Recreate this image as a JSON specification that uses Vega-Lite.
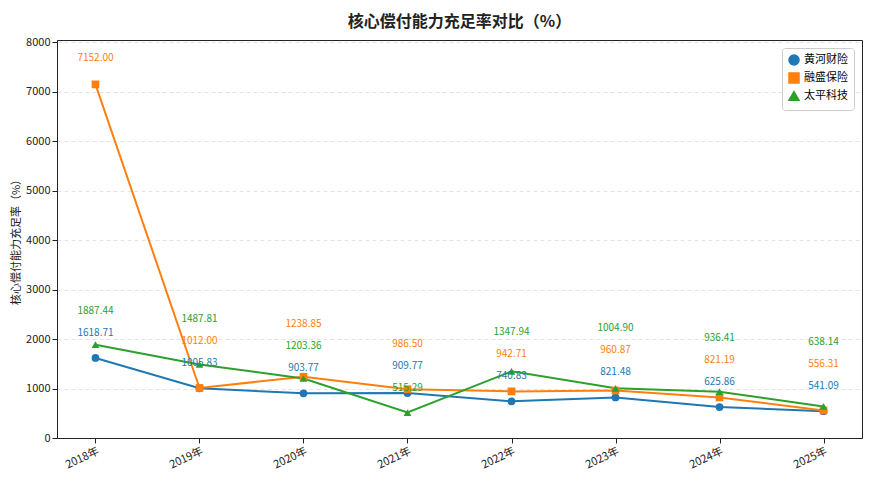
{
  "$schema": "https://vega.github.io/schema/vega-lite/v6.json",
  "autosize": "none",
  "width": 805,
  "height": 398,
  "padding": {"left": 57, "top": 40, "right": 8, "bottom": 40},
  "title": {"text": "核心偿付能力充足率对比（%）", "font": "Noto Sans CJK SC", "fontSize": 16, "fontWeight": "bold", "offset": 6, "color": "#222"},
  "data": {"values": [
    {"year": "2018年", "co": "黄河财险", "v": 1618.71},
    {"year": "2019年", "co": "黄河财险", "v": 1005.83},
    {"year": "2020年", "co": "黄河财险", "v": 903.77},
    {"year": "2021年", "co": "黄河财险", "v": 909.77},
    {"year": "2022年", "co": "黄河财险", "v": 740.83},
    {"year": "2023年", "co": "黄河财险", "v": 821.48},
    {"year": "2024年", "co": "黄河财险", "v": 625.86},
    {"year": "2025年", "co": "黄河财险", "v": 541.09},
    {"year": "2018年", "co": "融盛保险", "v": 7152.00},
    {"year": "2019年", "co": "融盛保险", "v": 1012.00},
    {"year": "2020年", "co": "融盛保险", "v": 1238.85},
    {"year": "2021年", "co": "融盛保险", "v": 986.50},
    {"year": "2022年", "co": "融盛保险", "v": 942.71},
    {"year": "2023年", "co": "融盛保险", "v": 960.87},
    {"year": "2024年", "co": "融盛保险", "v": 821.19},
    {"year": "2025年", "co": "融盛保险", "v": 556.31},
    {"year": "2018年", "co": "太平科技", "v": 1887.44},
    {"year": "2019年", "co": "太平科技", "v": 1487.81},
    {"year": "2020年", "co": "太平科技", "v": 1203.36},
    {"year": "2021年", "co": "太平科技", "v": 515.29},
    {"year": "2022年", "co": "太平科技", "v": 1347.94},
    {"year": "2023年", "co": "太平科技", "v": 1004.90},
    {"year": "2024年", "co": "太平科技", "v": 936.41},
    {"year": "2025年", "co": "太平科技", "v": 638.14}
  ]},
  "encoding": {
    "x": {"field": "year", "type": "ordinal", "scale": {"type": "point", "padding": 0.37},
      "axis": {"title": null, "labelAngle": -25, "labelAlign": "right", "labelFont": "Noto Sans CJK SC", "labelFontSize": 11, "labelColor": "#222", "domainColor": "#222", "tickColor": "#222", "grid": false}},
    "color": {"field": "co", "type": "nominal", "sort": ["黄河财险", "融盛保险", "太平科技"],
      "scale": {"domain": ["黄河财险", "融盛保险", "太平科技"], "range": ["#1f77b4", "#ff7f0e", "#2ca02c"]},
      "legend": {"title": null, "orient": "top-right", "offset": 8, "labelFont": "Noto Sans CJK SC", "labelFontSize": 11, "strokeColor": "#ccc", "fillColor": "white", "padding": 6, "cornerRadius": 3}}
  },
  "layer": [
    {"mark": {"type": "line", "strokeWidth": 2},
      "encoding": {"y": {"field": "v", "type": "quantitative", "scale": {"domain": [0, 8050], "nice": false},
        "axis": {"title": "核心偿付能力充足率（%）", "titleFont": "Noto Sans CJK SC", "titleFontSize": 11, "titleFontWeight": "normal", "titleColor": "#222", "values": [0,1000,2000,3000,4000,5000,6000,7000,8000], "format": "d", "labelFontSize": 11, "labelColor": "#222", "domainColor": "#222", "tickColor": "#222", "gridDash": [4,3], "gridColor": "#e3e3e3"}}}},
    {"mark": {"type": "point", "filled": true, "size": 60, "opacity": 1},
      "encoding": {"y": {"field": "v", "type": "quantitative"},
        "shape": {"field": "co", "type": "nominal", "scale": {"domain": ["黄河财险", "融盛保险", "太平科技"], "range": ["circle", "square", "triangle-up"]}, "legend": null}}},
    {"mark": {"type": "text", "fontSize": 10, "baseline": "middle"},
      "transform": [
        {"joinaggregate": [{"op": "min", "field": "v", "as": "mn"}], "groupby": ["year"]},
        {"window": [{"op": "row_number", "as": "rk"}], "sort": [{"field": "v", "order": "ascending"}], "groupby": ["year"]},
        {"calculate": "datum.v > 3 * datum.mn ? datum.v + 26 * 20.23 : datum.mn + (25 + 22 * (datum.rk - 1)) * 20.23", "as": "ly"}
      ],
      "encoding": {
        "y": {"field": "ly", "type": "quantitative"},
        "text": {"field": "v", "type": "quantitative", "format": ".2f"}}}
  ],
  "config": {"view": {"stroke": "#222"}, "font": "Noto Sans CJK SC"}
}
